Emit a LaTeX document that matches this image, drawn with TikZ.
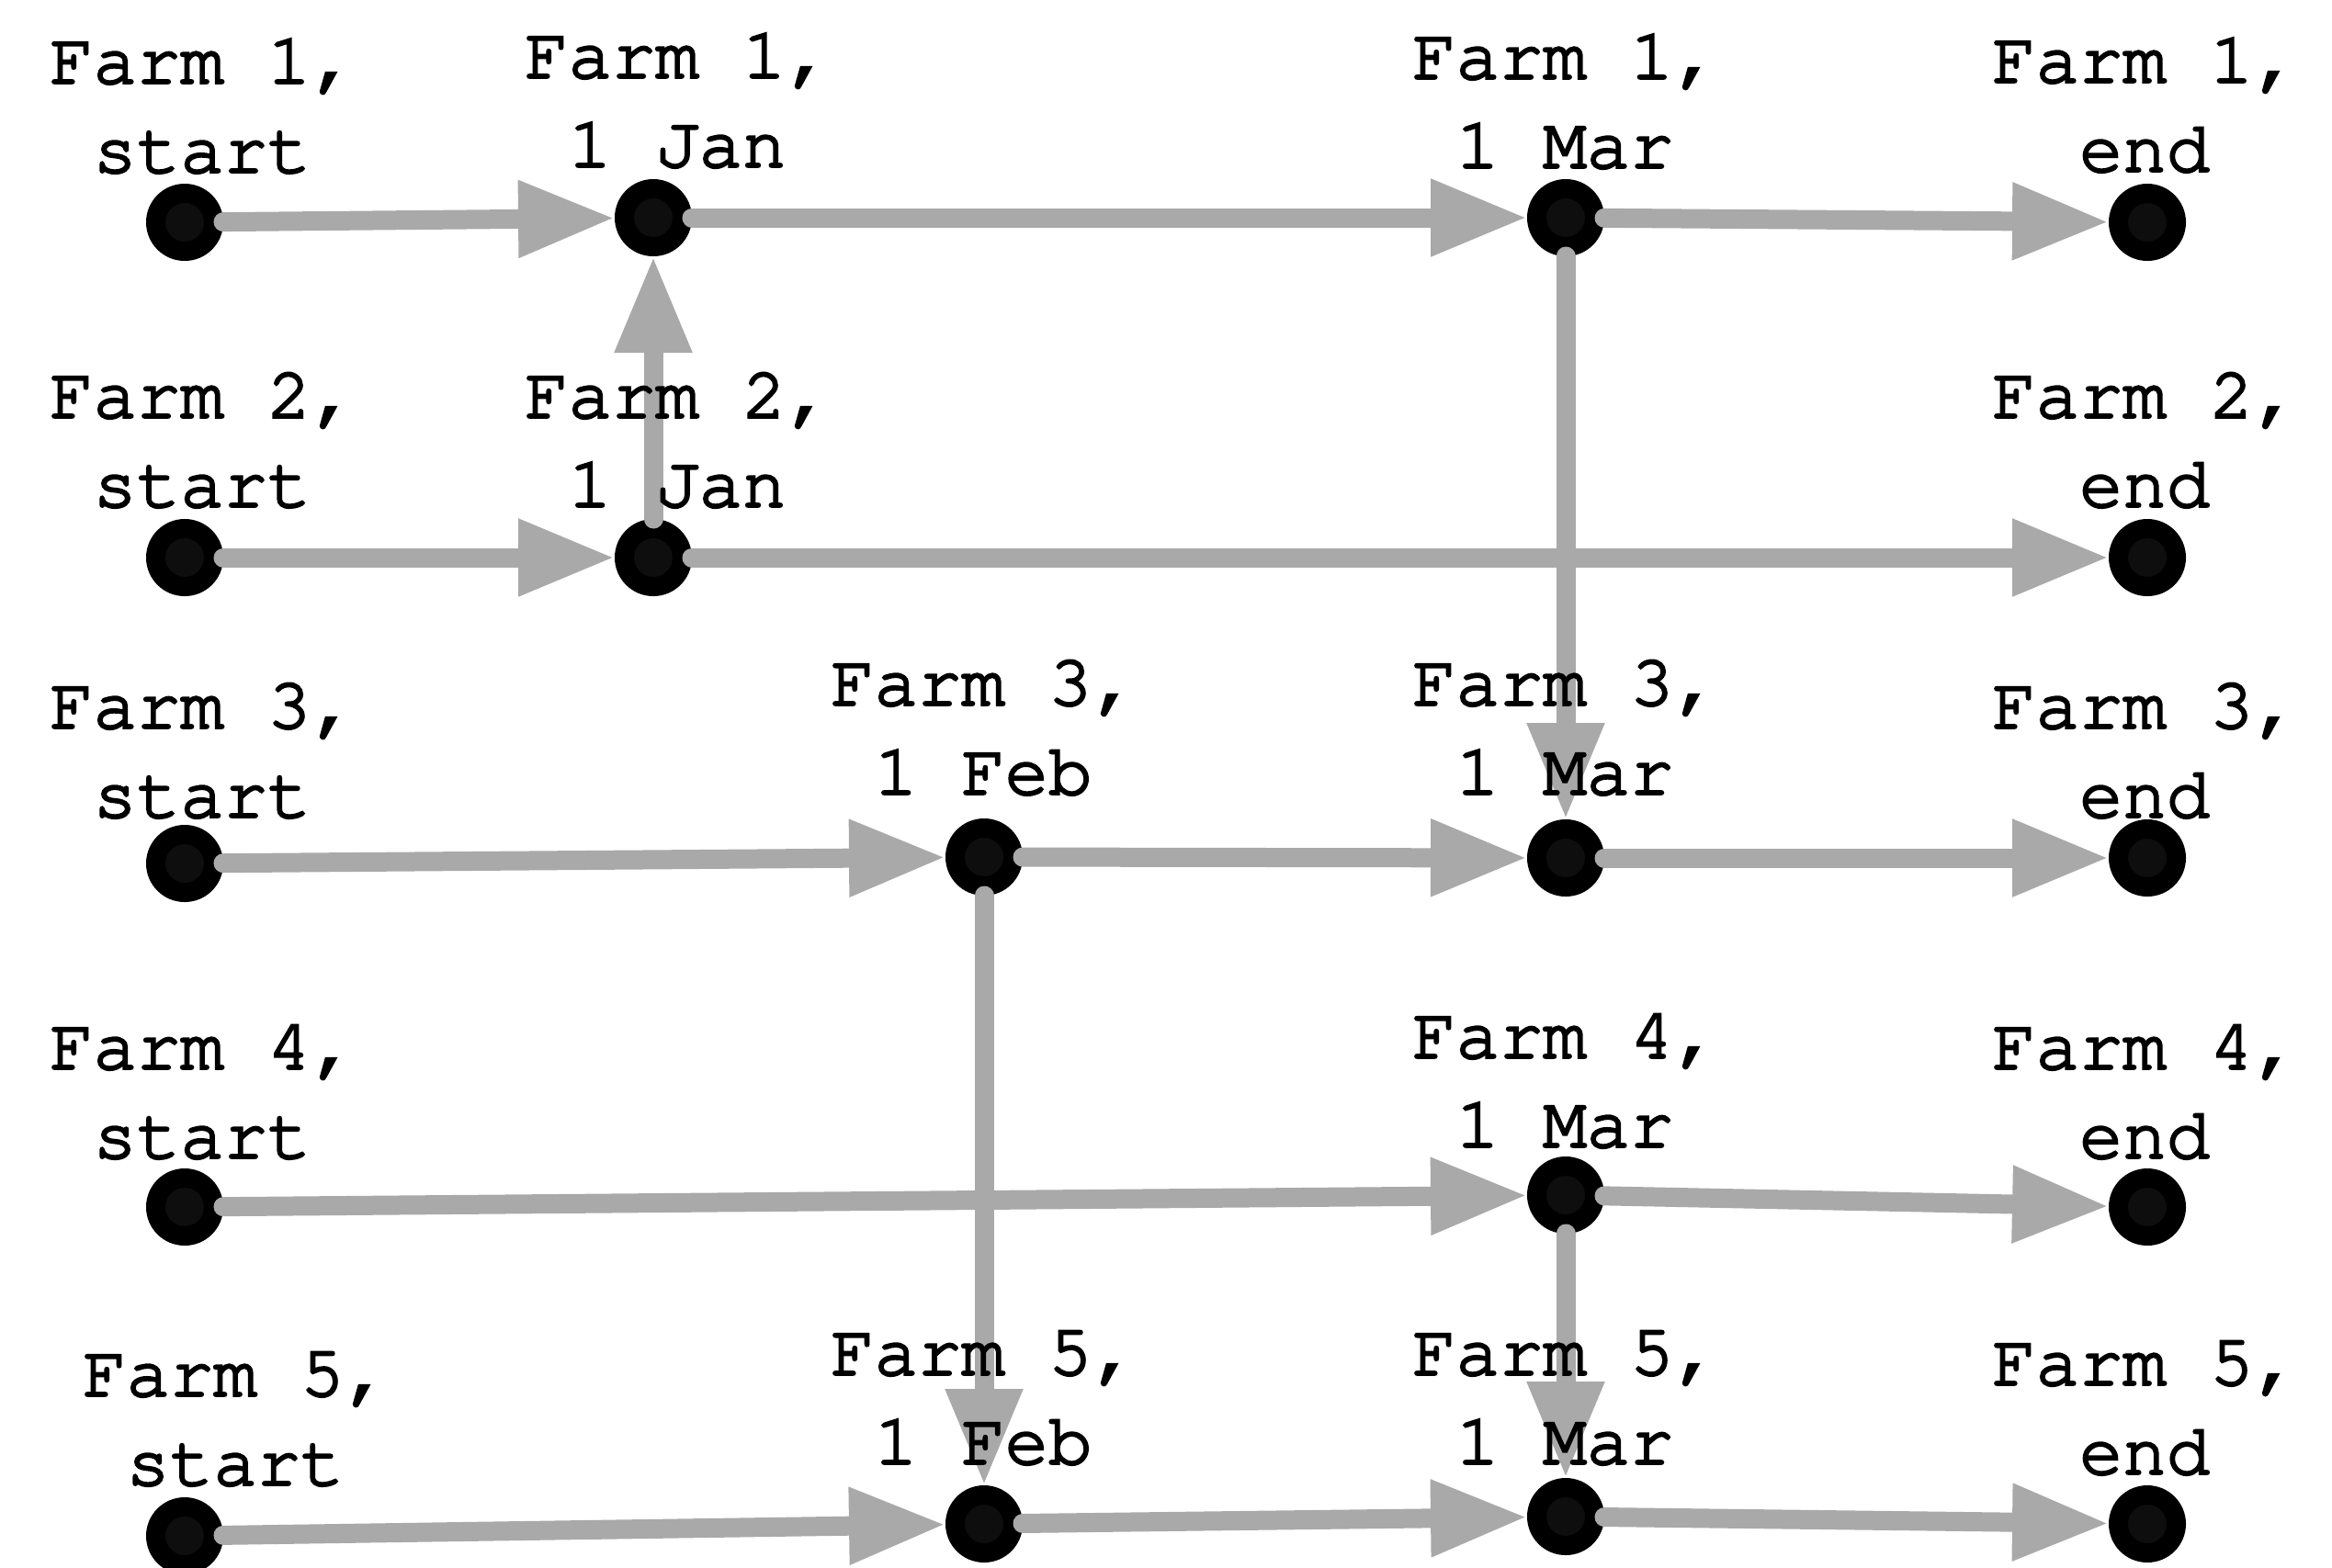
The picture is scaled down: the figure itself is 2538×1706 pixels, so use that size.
\documentclass[tikz,border=0pt]{standalone}
\usepackage[T1]{fontenc}
\usetikzlibrary{arrows.meta}
\definecolor{arrowgray}{HTML}{A9A9A9}
\definecolor{dotinner}{HTML}{0E0E0E}
\newcommand\lblfont{\fontfamily{pcr}\fontsize{79}{97}\selectfont}
\newcommand\heavytext{\special{pdf:code 2 Tr 2.5 w 0 G}}
\tikzset{
  dot/.style={circle, draw=black, line width=21pt, fill=dotinner, minimum size=63pt, inner sep=0pt},
  lab/.style={anchor=south, inner sep=0pt, align=center, font=\lblfont\heavytext},
  flow/.style={draw=arrowgray, line width=21pt, line cap=round, -{Triangle[length=105pt,width=79pt]}}
}
\begin{document}
\begin{tikzpicture}[x=1pt,y=-1pt]
\useasboundingbox (0,0) rectangle (2538,1706);
% nodes
\node[dot] (f1s) at (201,242) {};
\node[dot] (f1jan) at (711,237) {};
\node[dot] (f1mar) at (1704,237) {};
\node[dot] (f1e) at (2337,242) {};
\node[dot] (f2s) at (201,607) {};
\node[dot] (f2jan) at (711,607) {};
\node[dot] (f2e) at (2337,607) {};
\node[dot] (f3s) at (201,940) {};
\node[dot] (f3feb) at (1071,933) {};
\node[dot] (f3mar) at (1704,934) {};
\node[dot] (f3e) at (2337,934) {};
\node[dot] (f4s) at (201,1314) {};
\node[dot] (f4mar) at (1704,1301) {};
\node[dot] (f4e) at (2337,1314) {};
\node[dot] (f5s) at (201,1672) {};
\node[dot] (f5feb) at (1071,1659) {};
\node[dot] (f5mar) at (1704,1651) {};
\node[dot] (f5e) at (2337,1659) {};
% connectors
\draw[flow] (f1s) -- (f1jan);
\draw[flow] (f1jan) -- (f1mar);
\draw[flow] (f1mar) -- (f1e);
\draw[flow] (f2s) -- (f2jan);
\draw[flow] (f2jan) -- (f1jan);
\draw[flow] (f2jan) -- (f2e);
\draw[flow] (f1mar) -- (f3mar);
\draw[flow] (f3s) -- (f3feb);
\draw[flow] (f3feb) -- (f3mar);
\draw[flow] (f3mar) -- (f3e);
\draw[flow] (f3feb) -- (f5feb);
\draw[flow] (f4s) -- (f4mar);
\draw[flow] (f4mar) -- (f4e);
\draw[flow] (f4mar) -- (f5mar);
\draw[flow] (f5s) -- (f5feb);
\draw[flow] (f5feb) -- (f5mar);
\draw[flow] (f5mar) -- (f5e);
% labels
\node[lab] (l1s) at (220,189) {Farm 1,\\start};
\node[lab] (l1jan) at (737,183) {Farm 1,\\1 Jan};
\node[lab] (l1mar) at (1703,184) {Farm 1,\\1 Mar};
\node[lab] (l1e) at (2334,188) {Farm 1,\\end};
\node[lab] (l2s) at (220,553) {Farm 2,\\start};
\node[lab] (l2jan) at (737,553) {Farm 2,\\1 Jan};
\node[lab] (l2e) at (2334,553) {Farm 2,\\end};
\node[lab] (l3s) at (220,891) {Farm 3,\\start};
\node[lab] (l3feb) at (1070,866) {Farm 3,\\1 Feb};
\node[lab] (l3mar) at (1703,866) {Farm 3,\\1 Mar};
\node[lab] (l3e) at (2334,891) {Farm 3,\\end};
\node[lab] (l4s) at (220,1262) {Farm 4,\\start};
\node[lab] (l4mar) at (1703,1250) {Farm 4,\\1 Mar};
\node[lab] (l4e) at (2334,1262) {Farm 4,\\end};
\node[lab] (l5s) at (256,1618) {Farm 5,\\start};
\node[lab] (l5feb) at (1070,1595) {Farm 5,\\1 Feb};
\node[lab] (l5mar) at (1703,1595) {Farm 5,\\1 Mar};
\node[lab] (l5e) at (2334,1606) {Farm 5,\\end};
\end{tikzpicture}
\end{document}
